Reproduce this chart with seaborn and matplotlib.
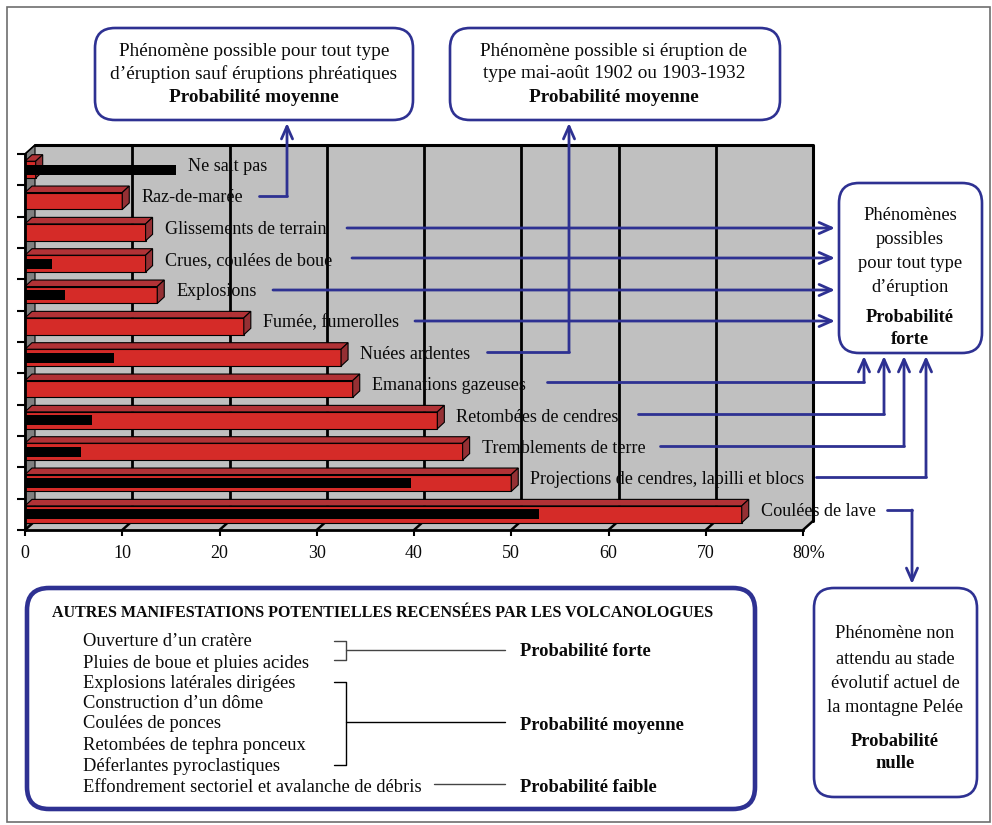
import numpy as np
import pandas as pd
import matplotlib
matplotlib.use("Agg")
import matplotlib.pyplot as plt
from matplotlib.patches import Polygon, FancyBboxPatch, Rectangle
from matplotlib.transforms import ScaledTranslation
import seaborn as sns

# ---- data -------------------------------------------------------------
phenomenes = [
    "Ne sait pas", "Raz-de-marée", "Glissements de terrain",
    "Crues, coulées de boue", "Explosions", "Fumée, fumerolles",
    "Nuées ardentes", "Emanations gazeuses", "Retombées de cendres",
    "Tremblements de terre", "Projections de cendres, lapilli et blocs",
    "Coulées de lave",
]
pct_rouge = [1.1, 10.0, 12.4, 12.4, 13.6, 22.5, 32.5, 33.7, 42.4, 45.0, 50.0, 73.7]
pct_noir = [15.5, 0.0, 0.0, 2.8, 4.1, 0.0, 9.2, 0.0, 6.9, 5.8, 39.7, 52.9]
x_ticks = [0, 10, 20, 30, 40, 50, 60, 70, 80]
x_tick_labels = ["0", "10", "20", "30", "40", "50", "60", "70", "80%"]

autres_items = [
    "Ouverture d\u2019un cratère", "Pluies de boue et pluies acides",
    "Explosions latérales dirigées", "Construction d\u2019un dôme",
    "Coulées de ponces", "Retombées de tephra ponceux",
    "Déferlantes pyroclastiques",
    "Effondrement sectoriel et avalanche de débris",
]

df = pd.DataFrame({"phenomene": phenomenes, "rouge": pct_rouge, "noir": pct_noir})

# ---- style --------------------------------------------------------------
sns.set_style("white")
plt.rcParams["font.family"] = ["Liberation Serif", "DejaVu Serif"]

BLUE = "#2E3192"
RED = "#D52B28"
RED_TOP = "#B13236"
RED_SIDE = "#953034"
WALL = "#C0C0C0"
WALL_SIDE = "#808080"
INK = "#0A0A0A"

FS_LABEL = 13.1
FS_BOX = 13.3
FS_TOP = 13.9

W, H = 992, 825
fig = plt.figure(figsize=(W / 100, H / 100), dpi=100)
fig.patch.set_facecolor("white")

X0, X1 = 25, 803
Y_TOP, Y_BOT = 154, 530
ax = fig.add_axes([X0 / W, 1 - Y_BOT / H, (X1 - X0) / W, (Y_BOT - Y_TOP) / H])
ax.patch.set_visible(False)

sx = (X1 - X0) / 80.0          # pixels per percent
sy = (Y_BOT - Y_TOP) / 12.0    # pixels per category
n = len(phenomenes)

# depth of the pseudo-3D wall and bars, in data units
dxw, dyw = 10 / sx, 9 / sy
dxb, dyb = 7 / sx, 6.5 / sy

# ---- bars ---------------------------------------------------------------
sns.barplot(data=df, x="rouge", y="phenomene", order=phenomenes, orient="h",
            color=RED, saturation=1, width=0.54, errorbar=None,
            edgecolor="black", linewidth=0.8, zorder=2, ax=ax)
red_patches = list(ax.patches)
sns.barplot(data=df, x="noir", y="phenomene", order=phenomenes, orient="h",
            color="black", saturation=1, width=0.31, errorbar=None,
            linewidth=0, zorder=3, ax=ax)

ax.set_xlim(0, 80)
ax.set_ylim(n - 0.5, -0.5)
top_y, bot_y = -0.5, n - 0.5

# back wall, side wall and floor
ax.add_patch(Rectangle((dxw, top_y - dyw), 80, n, facecolor=WALL,
                       edgecolor="none", zorder=0.1, clip_on=False))
ax.add_patch(Polygon([(0, top_y), (dxw, top_y - dyw), (dxw, bot_y - dyw), (0, bot_y)],
                     closed=True, facecolor=WALL_SIDE, edgecolor="black",
                     linewidth=0.8, zorder=0.2, clip_on=False))
ax.add_patch(Polygon([(0, bot_y), (80, bot_y), (80 + dxw, bot_y - dyw), (dxw, bot_y - dyw)],
                     closed=True, facecolor=WALL, edgecolor="none",
                     zorder=0.2, clip_on=False))
for t in x_ticks[1:-1]:
    ax.plot([t + dxw, t + dxw], [top_y - dyw, bot_y - dyw], color="black",
            lw=2, zorder=0.5, clip_on=False, solid_capstyle="butt")
for t in x_ticks:
    ax.plot([t, t + dxw], [bot_y, bot_y - dyw], color="black", lw=1.8,
            zorder=0.6, clip_on=False)
ax.plot([dxw, 80 + dxw, 80 + dxw], [top_y - dyw, top_y - dyw, bot_y - dyw],
        color="black", lw=2.2, zorder=0.6, clip_on=False)
ax.plot([0, dxw], [top_y, top_y - dyw], color="black", lw=1.2, zorder=0.6, clip_on=False)

# pseudo-3D top and side faces of the red bars
for p in red_patches:
    v = p.get_width()
    y_up = p.get_y()
    y_dn = p.get_y() + p.get_height()
    ax.add_patch(Polygon([(0, y_up), (v, y_up), (v + dxb, y_up - dyb), (dxb, y_up - dyb)],
                         closed=True, facecolor=RED_TOP, edgecolor="black",
                         linewidth=0.8, zorder=2, clip_on=False))
    ax.add_patch(Polygon([(v, y_up), (v + dxb, y_up - dyb), (v + dxb, y_dn - dyb), (v, y_dn)],
                         closed=True, facecolor=RED_SIDE, edgecolor="black",
                         linewidth=0.8, zorder=2, clip_on=False))

# category labels to the right of each bar
for k, (name, r, b) in enumerate(zip(phenomenes, pct_rouge, pct_noir)):
    end = max(r, b)
    off_px = 12 + (7 if r >= b else 0)
    ax.annotate(name, xy=(end, k), xytext=(off_px * 0.72, 2.4),
                textcoords="offset points", ha="left", va="center",
                fontsize=FS_LABEL, color=INK, zorder=6, annotation_clip=False)

# axes, ticks
ax.grid(False)
for s in ("top", "right"):
    ax.spines[s].set_visible(False)
for s in ("left", "bottom"):
    ax.spines[s].set_color("black")
    ax.spines[s].set_linewidth(2)
    ax.spines[s].set_zorder(4)
ax.set_yticks(np.arange(-0.5, n, 1.0))
ax.set_yticklabels([])
ax.set_xticks(x_ticks)
ax.set_xticklabels(x_tick_labels)
ax.set_xlabel("")
ax.set_ylabel("")
ax.tick_params(axis="y", left=True, direction="out", length=6, width=1.5, color="black")
ax.tick_params(axis="x", bottom=True, direction="out", length=4, width=1.5,
               color="black", labelsize=13, labelcolor=INK, pad=7)
lbl = ax.get_xticklabels()[-1]
lbl.set_horizontalalignment("left")
lbl.set_transform(lbl.get_transform() + ScaledTranslation(-11 / 100, 0, fig.dpi_scale_trans))

# ---- overlay in pixel coordinates for boxes and connectors -------------
ov = fig.add_axes([0, 0, 1, 1], zorder=5)
ov.set_xlim(0, W)
ov.set_ylim(H, 0)
ov.axis("off")
ov.patch.set_alpha(0)

ov.add_patch(Rectangle((7, 7), 983, 815, fill=False, edgecolor="#6E6E6E", lw=1.2))

DY = 2  # small downward nudge for centred text lines


def rbox(x0, y0, x1, y1, lw=1.9, r=20):
    ov.add_patch(FancyBboxPatch((x0, y0), x1 - x0, y1 - y0,
                                boxstyle=f"round,pad=0,rounding_size={r}",
                                facecolor="white", edgecolor=BLUE, lw=lw))


def lines(cx, rows, size=FS_BOX):
    for y, txt, bold in rows:
        ov.text(cx, y + DY, txt, ha="center", va="center", fontsize=size,
                fontweight="bold" if bold else "normal", color=INK)


def connector(pts):
    xs, ys = zip(*pts)
    ov.plot(xs[:-1], ys[:-1], color=BLUE, lw=2, solid_joinstyle="miter")
    ov.annotate("", xy=pts[-1], xytext=pts[-2],
                arrowprops=dict(arrowstyle="->,head_length=0.9,head_width=0.4",
                                color=BLUE, lw=2, shrinkA=0, shrinkB=0,
                                mutation_scale=10))


rbox(95, 28, 413, 120)
lines(254, [(50, "Phénomène possible pour tout type", False),
            (72, "d\u2019éruption sauf éruptions phréatiques", False),
            (95, "Probabilité moyenne", True)], size=FS_TOP)
rbox(450, 28, 780, 120)
lines(614, [(50, "Phénomène possible si éruption de", False),
            (72, "type mai-août 1902 ou 1903-1932", False),
            (95, "Probabilité moyenne", True)], size=FS_TOP)
rbox(839, 183, 982, 353)
lines(910, [(213, "Phénomènes", False), (238, "possibles", False),
            (262, "pour tout type", False), (285, "d\u2019éruption", False),
            (316, "Probabilité", True), (337, "forte", True)])
rbox(814, 588, 977, 797)
lines(895, [(632, "Phénomène non", False), (657, "attendu au stade", False),
            (681, "évolutif actuel de", False), (706, "la montagne Pelée", False),
            (740, "Probabilité", True), (762, "nulle", True)])

connector([(259, 196), (287, 196), (287, 123)])
connector([(487, 352), (569, 352), (569, 123)])
for x_start, y in [(347, 228), (352, 258), (273, 290), (415, 321)]:
    connector([(x_start, y), (835, y)])
for x_start, y, x_up in [(547, 382, 864), (638, 414, 884), (660, 446, 904), (816, 477, 926)]:
    connector([(x_start, y), (x_up, y), (x_up, 356)])
connector([(887, 510), (912, 510), (912, 584)])

# ---- box of other manifestations --------------------------------------
rbox(27, 588, 755, 809, lw=3.3, r=22)
ov.text(383, 611 + DY, "AUTRES MANIFESTATIONS POTENTIELLES RECENSÉES PAR LES VOLCANOLOGUES",
        ha="center", va="center", fontsize=11.5, fontweight="bold", color=INK)
item_y = [640, 661, 682, 702, 722, 743, 764, 785]
for y, txt in zip(item_y, autres_items):
    ov.text(83, y + DY, txt, ha="left", va="center", fontsize=FS_BOX, color=INK)

BR = "#444444"
ov.plot([334, 346, 346, 334], [641, 641, 660, 660], color=BR, lw=1)
ov.plot([346, 505], [650, 650], color=BR, lw=1)
ov.plot([334, 346, 346, 334], [682, 682, 765, 765], color="black", lw=1)
ov.plot([346, 505], [722, 722], color="black", lw=1)
ov.plot([434, 505], [784, 784], color=BR, lw=1)
for y, txt in [(650, "Probabilité forte"), (723, "Probabilité moyenne"), (785, "Probabilité faible")]:
    ov.text(520, y + DY, txt, ha="left", va="center", fontsize=FS_BOX,
            fontweight="bold", color=INK)

fig.savefig("out.png", dpi=100, facecolor="white")
